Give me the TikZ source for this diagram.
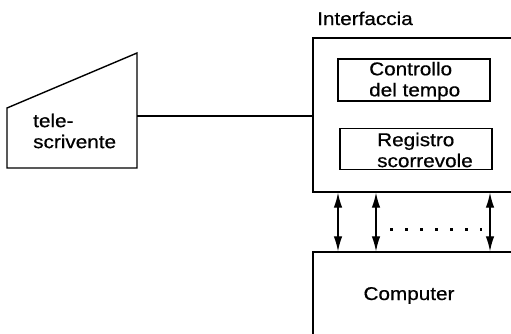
\documentclass[tikz,border=0pt]{standalone}
\usepackage{fontspec}
\setmainfont{Liberation Sans}[FakeStretch=1.12, FakeBold=0.6]
\usetikzlibrary{arrows.meta}
\tikzset{
  line/.style={line width=1.4pt, draw=black},
  box/.style={line, rectangle, inner sep=0pt},
  lbl/.style={font=\fontsize{18.5}{21}\selectfont, inner sep=0pt, align=left},
  bus/.style={line width=1.2pt, {Latex[length=15pt,width=8.5pt]}-{Latex[length=15pt,width=8.5pt]}}
}
\begin{document}
\begin{tikzpicture}[x=1pt,y=-1pt]
  \useasboundingbox (0,0) rectangle (511,333);
  \clip (0,0) rectangle (511,333);

  % teleprinter outline
  \coordinate (tA) at (7,108);
  \coordinate (tB) at (137,53);
  \coordinate (tC) at (137,168);
  \coordinate (tD) at (7,168);
  \draw[line, line join=miter] (tA) -- (tB) -- (tC) -- (tD) -- cycle;
  \node[lbl, anchor=west] (ttytext) at (33,131) {tele-\\scrivente};
  \coordinate (ttyport) at (137,116);

  % interface unit (open to the right)
  \node[box, minimum width=222pt, minimum height=154pt] (iface) at (424,115) {};
  \node[lbl, anchor=base west] (ifacelabel) at (317,25) {Interfaccia};
  \node[box, minimum width=152pt, minimum height=42pt] (timer) at (414,80) {};
  \node[lbl, anchor=west] (timertext) at (369,81) {Controllo\\del tempo};
  \node[box, minimum width=152pt, minimum height=41pt] (shreg) at (416,149) {};
  \node[lbl, anchor=west] (shregtext) at (377,150) {Registro\\scorrevole};

  % computer
  \node[box, minimum width=222pt, minimum height=120pt] (comp) at (424,312) {};
  \node[lbl, anchor=base] (comptext) at (409,300) {Computer};

  % serial line
  \draw[line] (ttyport) -- (ttyport -| iface.west);

  % parallel bus
  \coordinate (b1) at (338,0);
  \coordinate (b2) at (376,0);
  \coordinate (b3) at (490,0);
  \draw[bus] (b1 |- iface.south) -- (b1 |- comp.north);
  \draw[bus] (b2 |- iface.south) -- (b2 |- comp.north);
  \draw[bus] (b3 |- iface.south) -- (b3 |- comp.north);
  \coordinate (d1) at (390,229);
  \coordinate (d2) at (482,229);
  \draw[line width=3pt, dash pattern=on 3pt off 12pt] (d1) -- (d2);
\end{tikzpicture}
\end{document}
